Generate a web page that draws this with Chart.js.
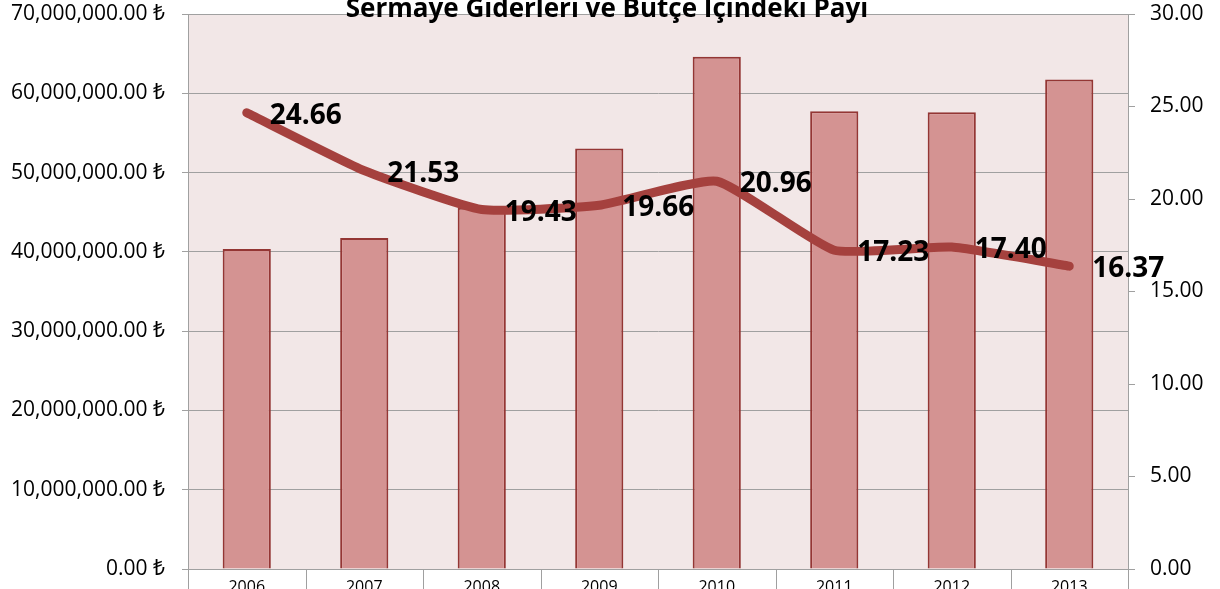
<!DOCTYPE html>
<html>
<head>
<meta charset="utf-8">
<script src="https://cdn.jsdelivr.net/npm/chart.js@4.4.1/dist/chart.umd.min.js"></script>
<style>
html,body{margin:0;padding:0;background:#fff;}
#c{display:block;}
</style>
</head>
<body>
<canvas id="c" width="1220" height="589"></canvas>
<script>
const categories = ['2006','2007','2008','2009','2010','2011','2012','2013'];
const capitalExpenditure = [40350000, 41750000, 45550000, 53050000, 64600000, 57750000, 57600000, 61750000];
const budgetShare = [24.66, 21.53, 19.43, 19.66, 20.96, 17.23, 17.40, 16.37];
const leftTicks = [0, 10000000, 20000000, 30000000, 40000000, 50000000, 60000000, 70000000];
const rightTicks = [0, 5, 10, 15, 20, 25, 30];
const titleText = 'Sermaye Giderleri ve Bütçe İçindeki Payı';

const FONT = '"Open Sans", "Noto Sans", "DejaVu Sans", sans-serif';

const plotBg = {
  id: 'plotBg',
  beforeDraw(chart) {
    const {ctx, chartArea: a} = chart;
    ctx.save();
    ctx.fillStyle = '#F2E7E7';
    ctx.fillRect(a.left, a.top, a.right - a.left, a.bottom - a.top);
    ctx.restore();
  }
};

const extras = {
  id: 'extras',
  afterDatasetsDraw(chart) {
    const {ctx} = chart;
    const meta = chart.getDatasetMeta(0);
    ctx.save();
    ctx.font = 'bold 28px ' + FONT;
    ctx.fillStyle = '#000';
    ctx.textAlign = 'left';
    ctx.textBaseline = 'middle';
    meta.data.forEach((pt, i) => {
      ctx.fillText(budgetShare[i].toFixed(2), pt.x + 23, pt.y + 3);
    });
    ctx.restore();
  },
  afterDraw(chart) {
    const {ctx, chartArea: a} = chart;
    ctx.save();
    ctx.strokeStyle = '#A0A0A0';
    ctx.lineWidth = 1;
    const n = categories.length;
    const w = (a.right - a.left) / n;
    for (let i = 0; i <= n; i++) {
      const x = Math.round(a.left + i * w) + 0.5;
      ctx.beginPath();
      ctx.moveTo(x, a.bottom);
      ctx.lineTo(x, chart.height);
      ctx.stroke();
    }
    ctx.font = 'bold 26px ' + FONT;
    ctx.fillStyle = '#000';
    ctx.textAlign = 'center';
    ctx.textBaseline = 'alphabetic';
    ctx.fillText(titleText, 607, 17);
    ctx.restore();
  }
};

function noPad(s) { s.paddingTop = 0; s.paddingBottom = 0; }

new Chart(document.getElementById('c'), {
  data: {
    labels: categories,
    datasets: [
      {
        type: 'line',
        label: 'Bütçe İçindeki Payı',
        data: budgetShare,
        yAxisID: 'y1',
        borderColor: '#A5413E',
        borderWidth: 9,
        borderCapStyle: 'round',
        borderJoinStyle: 'round',
        pointRadius: 0,
        tension: 0.15,
        fill: false,
        order: 0
      },
      {
        type: 'bar',
        label: 'Sermaye Giderleri',
        data: capitalExpenditure,
        yAxisID: 'y',
        backgroundColor: '#D49392',
        borderColor: '#943634',
        borderWidth: 2,
        borderSkipped: 'bottom',
        categoryPercentage: 1,
        barPercentage: 0.41,
        order: 1
      }
    ]
  },
  options: {
    responsive: false,
    animation: false,
    devicePixelRatio: 1,
    layout: {padding: {top: 14, left: 0, right: 0, bottom: 0}},
    plugins: {legend: {display: false}, tooltip: {enabled: false}, title: {display: false}},
    scales: {
      x: {
        grid: {display: false},
        border: {display: true, color: '#A0A0A0'},
        ticks: {color: '#000', font: {family: FONT, size: 16}, padding: 1, maxRotation: 0},
        afterFit(s) { s.height = 20; s.paddingLeft = 0; s.paddingRight = 0; }
      },
      y: {
        position: 'left',
        min: 0, max: 70000000,
        afterBuildTicks(s) { s.ticks = leftTicks.map(v => ({value: v})); },
        grid: {color: '#A0A0A0', tickLength: 6, lineWidth: 1},
        border: {display: true, color: '#A0A0A0'},
        ticks: {
          color: '#000',
          font: {family: FONT, size: 21},
          padding: 17,
          callback: v => v.toLocaleString('en-US', {minimumFractionDigits: 2, maximumFractionDigits: 2}) + ' ₺'
        },
        afterFit(s) { s.width = 188; noPad(s); }
      },
      y1: {
        position: 'right',
        min: 0, max: 30,
        afterBuildTicks(s) { s.ticks = rightTicks.map(v => ({value: v})); },
        grid: {drawOnChartArea: false, color: '#A0A0A0', tickLength: 7},
        border: {display: true, color: '#A0A0A0'},
        ticks: {
          color: '#000',
          font: {family: FONT, size: 21},
          padding: 15,
          callback: v => Number(v).toFixed(2)
        },
        afterFit(s) { s.width = 92; noPad(s); }
      }
    }
  },
  plugins: [plotBg, extras]
});
</script>
</body>
</html>
